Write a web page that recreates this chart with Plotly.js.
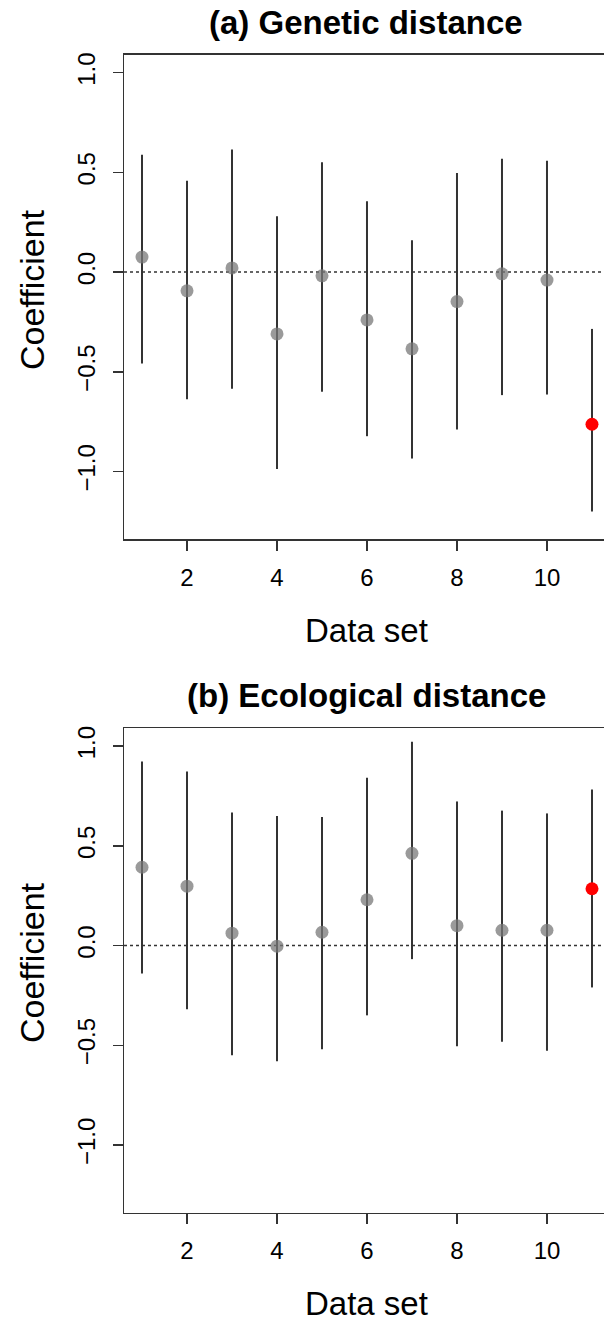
<!DOCTYPE html>
<html>
<head>
<meta charset="utf-8">
<script src="https://cdn.plot.ly/plotly-3.0.1.min.js"></script>
<style>
html,body{margin:0;padding:0;background:#fff;overflow:hidden;}
#chart{width:604px;height:1322px;}
</style>
</head>
<body>
<div id="chart"></div>
<script>
// Data set indices
const dataSets = [1, 2, 3, 4, 5, 6, 7, 8, 9, 10, 11];

// (a) Genetic distance: estimate and interval
const geneticCoef  = [0.075, -0.094, 0.021, -0.31, -0.019, -0.24, -0.385, -0.148, -0.009, -0.04, -0.763];
const geneticLower = [-0.458, -0.638, -0.585, -0.988, -0.60, -0.823, -0.935, -0.79, -0.617, -0.614, -1.20];
const geneticUpper = [0.588, 0.458, 0.615, 0.28, 0.551, 0.355, 0.16, 0.497, 0.568, 0.558, -0.285];

// (b) Ecological distance: estimate and interval
const ecoCoef  = [0.393, 0.298, 0.062, -0.003, 0.067, 0.23, 0.463, 0.10, 0.077, 0.077, 0.285];
const ecoLower = [-0.14, -0.32, -0.55, -0.58, -0.52, -0.35, -0.068, -0.505, -0.483, -0.528, -0.21];
const ecoUpper = [0.923, 0.873, 0.667, 0.65, 0.645, 0.842, 1.022, 0.723, 0.677, 0.663, 0.783];

// highlighted data set (drawn in red)
const highlight = 11;

const xTicks = [2, 4, 6, 8, 10];
const yTicks = [-1.0, -0.5, 0.0, 0.5, 1.0];
const titles = ['(a) Genetic distance', '(b) Ecological distance'];
const xLabel = 'Data set';
const yLabel = 'Coefficient';

const FONT = '"Liberation Sans", Arial, Helvetica, sans-serif';
const INK = '#333333';

function panelTraces(coef, lower, upper, xa, ya) {
  const lx = [], ly = [];
  dataSets.forEach((d, i) => { lx.push(d, d, null); ly.push(lower[i], upper[i], null); });
  const gx = [], gy = [], rx = [], ry = [];
  dataSets.forEach((d, i) => {
    if (d === highlight) { rx.push(d); ry.push(coef[i]); }
    else { gx.push(d); gy.push(coef[i]); }
  });
  return [
    {x: lx, y: ly, xaxis: xa, yaxis: ya, mode: 'lines', type: 'scatter',
     line: {color: INK, width: 2}, hoverinfo: 'skip', showlegend: false, connectgaps: false},
    {x: gx, y: gy, xaxis: xa, yaxis: ya, mode: 'markers', type: 'scatter',
     marker: {color: 'rgba(120,120,120,0.75)', size: 13}, showlegend: false},
    {x: rx, y: ry, xaxis: xa, yaxis: ya, mode: 'markers', type: 'scatter',
     marker: {color: '#ff0000', size: 13}, showlegend: false}
  ];
}

const traces = [].concat(
  panelTraces(geneticCoef, geneticLower, geneticUpper, 'x', 'y'),
  panelTraces(ecoCoef, ecoLower, ecoUpper, 'x2', 'y2')
);

const H = 1322;
const domA = [1 - 539.3 / H, 1 - 54.7 / H];
const domB = [1 - 1212.7 / H, 1 - 728.3 / H];

function xAxis(anchor) {
  return {
    anchor: anchor, range: [0.6, 11.267], tickmode: 'array', tickvals: xTicks,
    ticks: 'outside', ticklen: 10, tickwidth: 1.5, tickcolor: INK,
    showline: true, linecolor: INK, linewidth: 1.5, mirror: true,
    showgrid: false, zeroline: false,
    tickfont: {family: FONT, size: 24, color: '#000'}, ticklabelstandoff: 6
  };
}
function yAxis(anchor, dom) {
  return {
    anchor: anchor, domain: dom, range: [-1.34, 1.09], tickmode: 'array', tickvals: yTicks,
    tickformat: '.1f', tickangle: -90,
    ticks: 'outside', ticklen: 10, tickwidth: 1.5, tickcolor: INK,
    showline: true, linecolor: INK, linewidth: 1.5, mirror: false,
    showgrid: false, zeroline: false,
    tickfont: {family: FONT, size: 24, color: '#000'}, ticklabelstandoff: 8
  };
}

const layout = {
  width: 604, height: H,
  margin: {l: 124, r: 0, t: 0, b: 0},
  paper_bgcolor: '#fff', plot_bgcolor: '#fff',
  font: {family: FONT, color: '#000'},
  xaxis: xAxis('y'), yaxis: yAxis('x', domA),
  xaxis2: xAxis('y2'), yaxis2: yAxis('x2', domB),
  shapes: [
    {type: 'line', xref: 'x domain', yref: 'y', x0: 0, x1: 1, y0: 0, y1: 0,
     line: {color: INK, width: 1.5, dash: 'dot'}, layer: 'below'},
    {type: 'line', xref: 'x2 domain', yref: 'y2', x0: 0, x1: 1, y0: 0, y1: 0,
     line: {color: INK, width: 1.5, dash: 'dot'}, layer: 'below'}
  ],
  annotations: [
    {text: '<b>' + titles[0] + '</b>', xref: 'paper', yref: 'paper', x: 0.505, y: 1 - 22 / H,
     xanchor: 'center', yanchor: 'middle', showarrow: false, font: {family: FONT, size: 33, color: '#000'}},
    {text: '<b>' + titles[1] + '</b>', xref: 'paper', yref: 'paper', x: 0.505, y: 1 - 695 / H,
     xanchor: 'center', yanchor: 'middle', showarrow: false, font: {family: FONT, size: 33, color: '#000'}},
    {text: xLabel, xref: 'paper', yref: 'paper', x: 0.505, y: 1 - 630 / H,
     xanchor: 'center', yanchor: 'middle', showarrow: false, font: {family: FONT, size: 33, color: '#000'}},
    {text: xLabel, xref: 'paper', yref: 'paper', x: 0.505, y: 1 - 1303 / H,
     xanchor: 'center', yanchor: 'middle', showarrow: false, font: {family: FONT, size: 33, color: '#000'}},
    {text: yLabel, xref: 'paper', yref: 'paper', x: (32 - 124) / 480, y: 1 - 290 / H, textangle: -90,
     xanchor: 'center', yanchor: 'middle', showarrow: false, font: {family: FONT, size: 34, color: '#000'}},
    {text: yLabel, xref: 'paper', yref: 'paper', x: (32 - 124) / 480, y: 1 - 963 / H, textangle: -90,
     xanchor: 'center', yanchor: 'middle', showarrow: false, font: {family: FONT, size: 34, color: '#000'}}
  ]
};

Plotly.newPlot('chart', traces, layout, {displayModeBar: false, staticPlot: true});
</script>
</body>
</html>
